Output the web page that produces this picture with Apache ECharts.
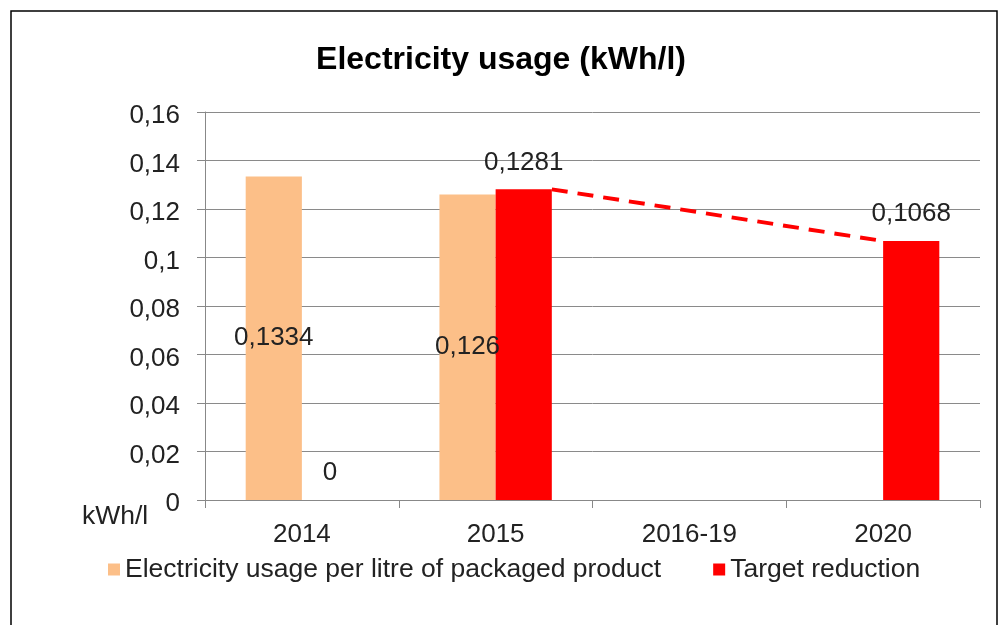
<!DOCTYPE html>
<html>
<head>
<meta charset="utf-8">
<script src="https://cdn.jsdelivr.net/npm/echarts@6/dist/echarts.min.js"></script>
<style>
	html, body { margin: 0; padding: 0; background: #fff; }
	#chart { width: 1002px; height: 625px; }
</style>
</head>
<body>
<div id="chart"></div>
<script>
	/*类别*/
	var categories = ['2014', '2015', '2016-19', '2020'];
	/*数据*/
	var usageValues = [0.1334, 0.126, null, null];
	var targetValues = [0, 0.1281, null, 0.1068];
	var yTicks = [0, 0.02, 0.04, 0.06, 0.08, 0.1, 0.12, 0.14, 0.16];

	var seriesNames = ['Electricity usage per litre of packaged product', 'Target reduction'];
	var colors = ['#fcbf88', '#ff0000'];

	var gapFrac = 0.42;
	var barFrac = (1 - gapFrac) / 2;

	function comma(v) {
		return String(v).replace('.', ',');
	}

	/*虚线：2015红柱右上角 → 2020红柱左上角*/
	var trendData = [
		[1 + 0.5 + barFrac, targetValues[1]],
		[3 + 0.5, targetValues[3]]
	];

	var font = 'Liberation Sans, Arial, sans-serif';
	var chart = echarts.init(document.getElementById('chart'));
	chart.setOption({
		animation: false,
		textStyle: { fontFamily: font },
		title: {
			text: 'Electricity usage (kWh/l)',
			left: 'center',
			top: 39,
			textStyle: { fontSize: 32, fontWeight: 'bold', color: '#000', fontFamily: font }
		},
		legend: {
			data: seriesNames,
			left: 103,
			top: 551,
			icon: 'rect',
			itemWidth: 12,
			itemHeight: 12,
			itemGap: 52,
			textStyle: { fontSize: 26.5, color: '#222', fontFamily: font }
		},
		grid: { left: 205, right: 22, top: 112, bottom: 125 },
		graphic: [
			{
				type: 'rect',
				shape: { x: 11, y: 11, width: 986, height: 640 },
				style: { fill: 'none', stroke: '#000', lineWidth: 1.5 },
				silent: true
			},
			{
				type: 'text',
				left: 82,
				top: 503,
				style: { text: 'kWh/l', fontSize: 26.5, fill: '#222', fontFamily: font }
			}
		],
		xAxis: [
			{
				type: 'category',
				data: categories,
				axisLine: { lineStyle: { color: '#888' } },
				axisTick: { show: true, length: 8, lineStyle: { color: '#888' } },
				axisLabel: { fontSize: 26, color: '#222', margin: 22 }
			},
			{
				type: 'value',
				min: 0,
				max: categories.length,
				show: false
			}
		],
		yAxis: {
			type: 'value',
			min: 0,
			max: 0.16,
			interval: 0.02,
			axisLine: { show: true, lineStyle: { color: '#888' } },
			axisTick: { show: true, length: 8, lineStyle: { color: '#888' } },
			splitLine: { lineStyle: { color: '#8a8a8a' } },
			axisLabel: {
				fontSize: 26,
				color: '#222',
				margin: 25,
				verticalAlign: 'top',
				lineHeight: 8,
				formatter: function (v) { return comma(+v.toFixed(2)); }
			}
		},
		series: [
			{
				name: seriesNames[0],
				type: 'bar',
				data: usageValues,
				barGap: '0%',
				barCategoryGap: (gapFrac * 100) + '%',
				itemStyle: { color: colors[0] },
				label: {
					show: true,
					position: 'inside',
					fontSize: 26,
					color: '#222',
					formatter: function (p) { return comma(p.value); }
				}
			},
			{
				name: seriesNames[1],
				type: 'bar',
				data: targetValues,
				barGap: '0%',
				barCategoryGap: (gapFrac * 100) + '%',
				itemStyle: { color: colors[1] },
				label: {
					show: true,
					position: 'top',
					distance: 14,
					fontSize: 26,
					color: '#222',
					formatter: function (p) { return comma(p.value); }
				}
			},
			{
				type: 'line',
				xAxisIndex: 1,
				data: trendData,
				symbol: 'none',
				silent: true,
				lineStyle: { color: colors[1], width: 4, type: [16, 10] },
				z: 1
			}
		]
	});
</script>
</body>
</html>
